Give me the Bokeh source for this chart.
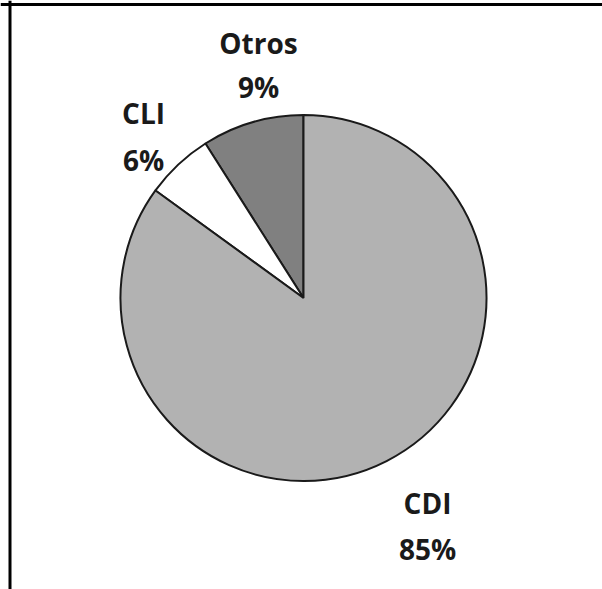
import numpy as np
from bokeh.plotting import figure
from bokeh.models import Range1d, ColumnDataSource, Span
from bokeh.core.properties import value
from bokeh.embed import file_html
from bokeh.resources import INLINE

# Data
categories = ["Otros", "CLI", "CDI"]
percent = [9, 6, 85]
colors = ["#808080", "#ffffff", "#b2b2b2"]

W, H = 602, 589
p = figure(width=W, height=H, output_backend="svg", toolbar_location=None,
           x_range=Range1d(0, W), y_range=Range1d(0, H), min_border=0)
p.axis.visible = False
p.grid.visible = False
p.outline_line_color = None
p.background_fill_color = "white"
p.border_fill_color = "white"

frac = np.array(percent) / sum(percent)
ends = np.pi / 2 + 2 * np.pi * np.cumsum(frac)
starts = ends - 2 * np.pi * frac
src = ColumnDataSource(dict(start=starts, end=ends, color=colors, cat=categories))

cx, cy, r = 303, 291.5, 183
p.wedge(x=cx, y=cy, radius=r, radius_units="screen", start_angle="start", end_angle="end",
        fill_color="color", line_color="#1a1a1a", line_width=2, source=src)

# labels (positions for each category)
lx = [258, 143, 427]
ly_name = [547, 477, 87]
ly_pct = [503, 430, 41]
lab = ColumnDataSource(dict(x=lx, yn=ly_name, yp=ly_pct, name=categories,
                            pct=[f"{v}%" for v in percent]))
for ycol, tcol in (("yn", "name"), ("yp", "pct")):
    p.text(x="x", y=ycol, text=tcol, source=lab, text_align="center", text_baseline="middle",
           text_font=value("Open Sans"), text_font_style="bold", text_font_size="28px",
           text_color="#1a1a1a")

# frame (top and left sides visible)
p.add_layout(Span(location=H - 4, dimension="width", line_color="black", line_width=3))
p.add_layout(Span(location=9.5, dimension="height", line_color="black", line_width=3))

open("out.html", "w").write(file_html(p, INLINE))
